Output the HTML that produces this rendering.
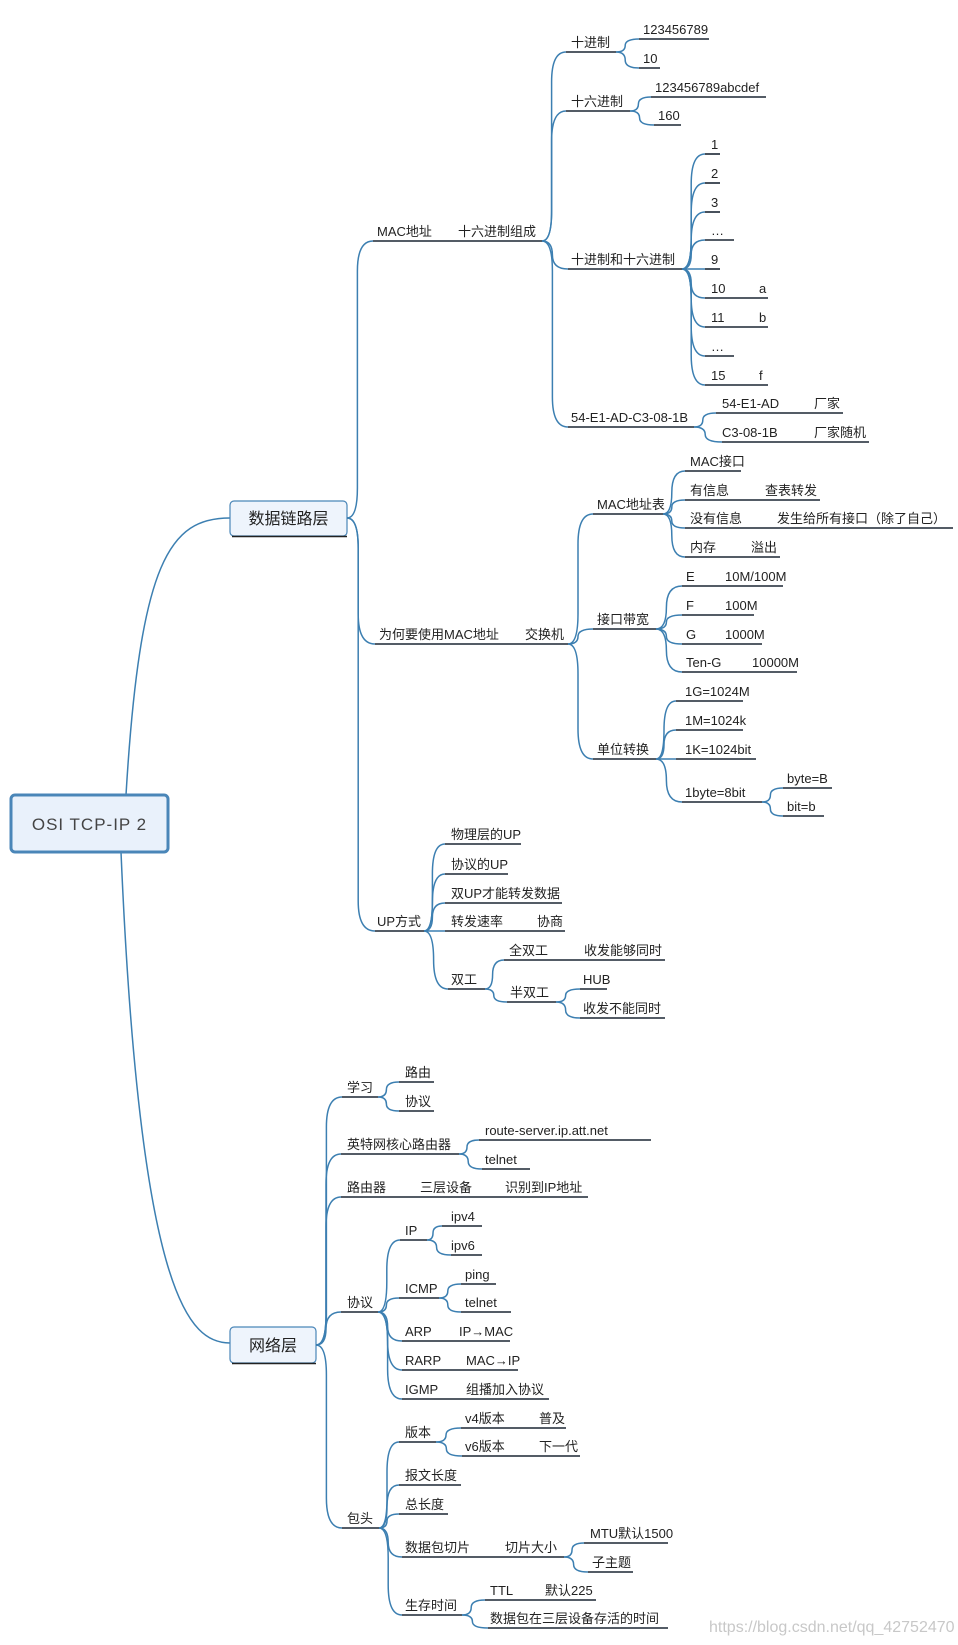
<!DOCTYPE html>
<html><head><meta charset="utf-8">
<style>
html,body{margin:0;padding:0;background:#fff;}
svg{display:block;}
text{font-family:"Liberation Sans","Noto Sans CJK SC",sans-serif;font-size:13px;fill:#222;}
</style></head>
<body>
<svg id="s" width="958" height="1645" viewBox="0 0 958 1645" xmlns="http://www.w3.org/2000/svg">
<path d="M126 795 C140 560 170 518 230 518" fill="none" stroke="#3c7fb1" stroke-width="1.5"/>
<path d="M121 852 C140 1300 190 1343 230 1343" fill="none" stroke="#3c7fb1" stroke-width="1.5"/>
<rect x="11" y="795" width="157" height="57" rx="4" fill="#e9f1fb" stroke="#4a86b8" stroke-width="3"/>
<text x="89.5" y="830" text-anchor="middle" style="font-size:17px;fill:#444;letter-spacing:1px">OSI TCP-IP 2</text>
<rect x="230" y="501" width="117" height="35" rx="4" fill="#eef4fc" stroke="#4a86b8" stroke-width="1.2"/>
<line x1="232" y1="536.5" x2="347" y2="536.5" stroke="#222" stroke-width="1.5"/>
<text x="288.5" y="524" text-anchor="middle" style="font-size:16px">数据链路层</text>
<rect x="230" y="1327" width="86" height="36" rx="4" fill="#eef4fc" stroke="#4a86b8" stroke-width="1.2"/>
<line x1="232" y1="1363.5" x2="316" y2="1363.5" stroke="#222" stroke-width="1.5"/>
<text x="273" y="1351" text-anchor="middle" style="font-size:16px">网络层</text>
<g id="g"></g>
<text x="709" y="1632" style="font-size:16px;fill:#c8c8c8">https://blog.csdn.net/qq_42752470</text>
</svg>
<script>
var P={DL:[347,518],NL:[316,1345]};
var N=[
["mac","DL",373,542,241,[[377,"MAC地址"],[458,"十六进制组成"]]],
["d10","mac",566,616,52,[[571,"十进制"]]],
["a1","d10",639,709,39,[[643,"123456789"]]],
["a2","d10",639,660,68,[[643,"10"]]],
["h16","mac",566,630,111,[[571,"十六进制"]]],
["a3","h16",651,766,97,[[655,"123456789abcdef"]]],
["a4","h16",654,681,125,[[658,"160"]]],
["dh","mac",568,682,269,[[571,"十进制和十六进制"]]],
["n1","dh",705,720,154,[[711,"1"]]],
["n2","dh",705,720,183,[[711,"2"]]],
["n3","dh",705,720,212,[[711,"3"]]],
["n4","dh",705,734,240,[[711,"…"]]],
["n5","dh",705,720,269,[[711,"9"]]],
["n6","dh",705,768,298,[[711,"10"],[759,"a"]]],
["n7","dh",705,768,327,[[711,"11"],[759,"b"]]],
["n8","dh",705,734,356,[[711,"…"]]],
["n9","dh",705,768,385,[[711,"15"],[759,"f"]]],
["m6","mac",568,694,427,[[571,"54-E1-AD-C3-08-1B"]]],
["m6a","m6",716,843,413,[[722,"54-E1-AD"],[814,"厂家"]]],
["m6b","m6",722,869,442,[[722,"C3-08-1B"],[814,"厂家随机"]]],
["why","DL",375,568,644,[[379,"为何要使用MAC地址"],[525,"交换机"]]],
["mt","why",593,663,514,[[597,"MAC地址表"]]],
["mt1","mt",685,741,471,[[690,"MAC接口"]]],
["mt2","mt",685,820,500,[[690,"有信息"],[765,"查表转发"]]],
["mt3","mt",685,953,528,[[690,"没有信息"],[777,"发生给所有接口（除了自己）"]]],
["mt4","mt",685,780,557,[[690,"内存"],[751,"溢出"]]],
["bw","why",593,656,629,[[597,"接口带宽"]]],
["e1","bw",682,783,586,[[686,"E"],[725,"10M/100M"]]],
["e2","bw",682,754,615,[[686,"F"],[725,"100M"]]],
["e3","bw",682,762,644,[[686,"G"],[725,"1000M"]]],
["e4","bw",682,797,672,[[686,"Ten-G"],[752,"10000M"]]],
["uc","why",593,656,759,[[597,"单位转换"]]],
["u1","uc",676,743,701,[[685,"1G=1024M"]]],
["u2","uc",676,743,730,[[685,"1M=1024k"]]],
["u3","uc",676,756,759,[[685,"1K=1024bit"]]],
["u4","uc",682,762,802,[[685,"1byte=8bit"]]],
["b1","u4",783,832,788,[[787,"byte=B"]]],
["b2","u4",783,824,816,[[787,"bit=b"]]],
["up","DL",375,424,931,[[377,"UP方式"]]],
["up1","up",445,521,844,[[451,"物理层的UP"]]],
["up2","up",445,508,874,[[451,"协议的UP"]]],
["up3","up",445,562,903,[[451,"双UP才能转发数据"]]],
["up4","up",445,565,931,[[451,"转发速率"],[537,"协商"]]],
["up5","up",448,485,989,[[451,"双工"]]],
["f1","up5",504,665,960,[[509,"全双工"],[584,"收发能够同时"]]],
["f2","up5",507,556,1002,[[510,"半双工"]]],
["h1","f2",580,607,989,[[583,"HUB"]]],
["h2","f2",580,665,1018,[[583,"收发不能同时"]]],
["xx","NL",342,378,1097,[[347,"学习"]]],
["xx1","xx",399,434,1082,[[405,"路由"]]],
["xx2","xx",399,434,1111,[[405,"协议"]]],
["yt","NL",341,459,1154,[[347,"英特网核心路由器"]]],
["yt1","yt",479,651,1140,[[485,"route-server.ip.att.net"]]],
["yt2","yt",482,530,1169,[[485,"telnet"]]],
["ly","NL",341,588,1197,[[347,"路由器"],[420,"三层设备"],[505,"识别到IP地址"]]],
["xy","NL",341,378,1312,[[347,"协议"]]],
["ip","xy",400,427,1240,[[405,"IP"]]],
["ip4","ip",442,482,1226,[[451,"ipv4"]]],
["ip6","ip",451,482,1255,[[451,"ipv6"]]],
["icmp","xy",399,439,1298,[[405,"ICMP"]]],
["ping","icmp",461,496,1284,[[465,"ping"]]],
["tel","icmp",461,511,1312,[[465,"telnet"]]],
["arp","xy",402,510,1341,[[405,"ARP"],[459,"IP→MAC"]]],
["rarp","xy",402,518,1370,[[405,"RARP"],[466,"MAC→IP"]]],
["igmp","xy",402,549,1399,[[405,"IGMP"],[466,"组播加入协议"]]],
["bt","NL",342,379,1528,[[347,"包头"]]],
["bb","bt",399,436,1442,[[405,"版本"]]],
["v4","bb",461,566,1428,[[465,"v4版本"],[539,"普及"]]],
["v6","bb",462,580,1456,[[465,"v6版本"],[539,"下一代"]]],
["bw2","bt",399,461,1485,[[405,"报文长度"]]],
["zc","bt",399,448,1514,[[405,"总长度"]]],
["qp","bt",402,564,1557,[[405,"数据包切片"],[505,"切片大小"]]],
["mtu","qp",584,668,1543,[[590,"MTU默认1500"]]],
["zzt","qp",588,633,1572,[[592,"子主题"]]],
["sc","bt",402,462,1615,[[405,"生存时间"]]],
["ttl","sc",485,596,1600,[[490,"TTL"],[545,"默认225"]]],
["sc2","sc",488,668,1628,[[490,"数据包在三层设备存活的时间"]]]
];
var h="";
N.forEach(function(n){
 var p=P[n[1]],px=p[0],py=p[1],cx=n[2],cy=n[4];
 var dx=cx-px,dy=cy-py,mx=px+dx*0.4,s=dy<0?-1:1,r=Math.min(Math.abs(dy)/2,30);
 if(Math.abs(dy)<1) h+='<line x1="'+px+'" y1="'+py+'" x2="'+cx+'" y2="'+cy+'" stroke="#3c7fb1" stroke-width="1.5"/>';
 else h+='<path d="M'+px+' '+py+' Q'+mx+' '+py+' '+mx+' '+(py+s*r)+' L'+mx+' '+(cy-s*r)+' Q'+mx+' '+cy+' '+cx+' '+cy+'" fill="none" stroke="#3c7fb1" stroke-width="1.5"/>';
 h+='<line x1="'+cx+'" y1="'+cy+'" x2="'+n[3]+'" y2="'+cy+'" stroke="#1b2633" stroke-width="1.6"/>';
 n[5].forEach(function(t){h+='<text x="'+t[0]+'" y="'+(cy-5)+'">'+t[1]+'</text>';});
 P[n[0]]=[n[3],cy];
});
document.getElementById("g").innerHTML=h;
</script>
</body></html>
